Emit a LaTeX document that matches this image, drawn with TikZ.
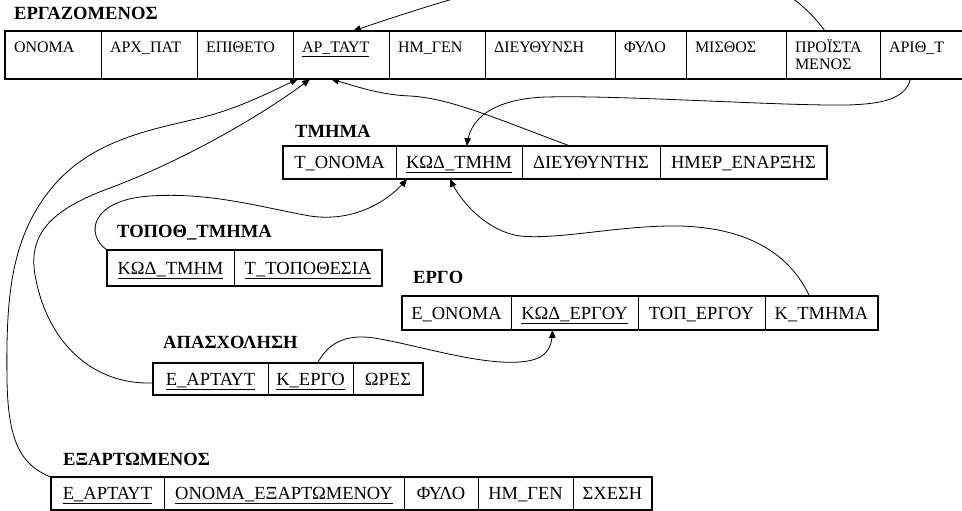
\documentclass[tikz,border=0pt]{standalone}
\usepackage{fontspec}
\setmainfont{Liberation Serif}
\usetikzlibrary{arrows}

\tikzset{
  ecell/.style={draw,line width=0.8pt,anchor=north west,outer sep=0pt,inner xsep=9pt,inner ysep=0pt,
    text height=22pt,text depth=26pt,align=left,text width=#1,font=\fontsize{16}{17}\selectfont},
  cell/.style 2 args={draw,line width=0.8pt,anchor=north west,outer sep=0pt,inner sep=0pt,
    minimum width=#1,minimum height=#2,text height=13.5pt,text depth=1pt,font=\fontsize{18.5}{20}\selectfont},
  tbl/.style={line width=2.8pt,line join=miter,line cap=butt},
  title/.style={anchor=base west,inner sep=0pt,font=\bfseries\fontsize{18.6}{20}\selectfont},
  fk/.style={->,line width=0.8pt}
}

\begin{document}
\begin{tikzpicture}[line cap=round,line join=round,>=triangle 45,x=1pt,y=-1pt]
\useasboundingbox (0,0) rectangle (962,511);
\clip (0,0) rectangle (962,511);
\node[title] (erg) at (14,20) {ΕΡΓΑΖΟΜΕΝΟΣ};
\node[title] (tmh) at (295,137) {ΤΜΗΜΑ};
\node[title] (top) at (117,237) {ΤΟΠΟΘ\_ΤΜΗΜΑ};
\node[title] (ergo) at (413,283) {ΕΡΓΟ};
\node[title] (apa) at (163,348) {ΑΠΑΣΧΟΛΗΣΗ};
\node[title] (exa) at (63,465) {ΕΞΑΡΤΩΜΕΝΟΣ};
\node[ecell=78pt] (e1) at (5,31) {ΟΝΟΜΑ};
\node[ecell=78pt] (e2) at (101,31) {ΑΡΧ\_ΠΑΤ};
\node[ecell=78pt] (e3) at (197,31) {ΕΠΙΘΕΤΟ};
\node[ecell=78pt] (e4) at (293,31) {\underline{ΑΡ\_ΤΑΥΤ}};
\node[ecell=78pt] (e5) at (389,31) {ΗΜ\_ΓΕΝ};
\node[ecell=112pt] (e6) at (485,31) {ΔΙΕΥΘΥΝΣΗ};
\node[ecell=53pt] (e7) at (615,31) {ΦΥΛΟ};
\node[ecell=82pt] (e8) at (686,31) {ΜΙΣΘΟΣ};
\node[ecell=76pt] (e9) at (786,31) {ΠΡΟΪΣΤΑ\\ΜΕΝΟΣ};
\node[ecell=77pt] (e10) at (880,31) {ΑΡΙΘ\_Τ};
\draw[tbl,line width=2.2pt] (e1.north west) rectangle (e10.south east);
\node[cell={113pt}{33pt}] (t1) at (283,146) {Τ\_ΟΝΟΜΑ};
\node[cell={126pt}{33pt}] (t2) at (396,146) {\underline{ΚΩΔ\_ΤΜΗΜ}};
\node[cell={138pt}{33pt}] (t3) at (522,146) {ΔΙΕΥΘΥΝΤΗΣ};
\node[cell={167pt}{33pt}] (t4) at (660,146) {ΗΜΕΡ\_ΕΝΑΡΞΗΣ};
\draw[tbl] (t1.north west) rectangle (t4.south east);
\node[cell={127pt}{36pt}] (p1) at (107,250) {\underline{ΚΩΔ\_ΤΜΗΜ}};
\node[cell={148pt}{36pt}] (p2) at (234,250) {\underline{Τ\_ΤΟΠΟΘΕΣΙΑ}};
\draw[tbl] (p1.north west) rectangle (p2.south east);
\node[cell={109pt}{34pt}] (r1) at (402,296) {Ε\_ΟΝΟΜΑ};
\node[cell={127pt}{34pt}] (r2) at (511,296) {\underline{ΚΩΔ\_ΕΡΓΟΥ}};
\node[cell={127pt}{34pt}] (r3) at (638,296) {ΤΟΠ\_ΕΡΓΟΥ};
\node[cell={113pt}{34pt}] (r4) at (765,296) {Κ\_ΤΜΗΜΑ};
\draw[tbl] (r1.north west) rectangle (r4.south east);
\node[cell={115pt}{32pt}] (a1) at (153,363) {\underline{Ε\_ΑΡΤΑΥΤ}};
\node[cell={85pt}{32pt}] (a2) at (268,363) {\underline{Κ\_ΕΡΓΟ}};
\node[cell={70pt}{32pt}] (a3) at (353,363) {ΩΡΕΣ};
\draw[tbl] (a1.north west) rectangle (a3.south east);
\node[cell={113pt}{33pt}] (x1) at (51,477) {\underline{Ε\_ΑΡΤΑΥΤ}};
\node[cell={240pt}{33pt}] (x2) at (164,477) {\underline{ΟΝΟΜΑ\_ΕΞΑΡΤΩΜΕΝΟΥ}};
\node[cell={74pt}{33pt}] (x3) at (404,477) {ΦΥΛΟ};
\node[cell={95pt}{33pt}] (x4) at (478,477) {ΗΜ\_ΓΕΝ};
\node[cell={79pt}{33pt}] (x5) at (573,477) {ΣΧΕΣΗ};
\draw[tbl] (x1.north west) rectangle (x5.south east);
\draw[fk] ([xshift=-8pt]e9.north) .. controls (740,-85) and (540,-33) .. ([xshift=12pt]e4.north);
\draw[fk] ([xshift=-17pt]e10.south) .. controls (905,100) and (880,104) .. (847,105) .. controls (780,106) and (620,95) .. (547,97) .. controls (505,98) and (470,112) .. ([xshift=8pt]t2.north);
\draw[fk] ([xshift=-21pt]t3.north) .. controls (500,120) and (450,98) .. (410,96) .. controls (380,95) and (355,86) .. ([xshift=-10pt]e4.south);
\draw[fk] (p1.north west) .. controls (85,235) and (90,200) .. (150,196) .. controls (210,192) and (260,207) .. (310,216) .. controls (350,222) and (385,205) .. ([xshift=-52pt]t2.south);
\draw[fk] ([xshift=-12pt]r4.north) .. controls (790,255) and (750,228) .. (680,226) .. controls (620,225) and (560,240) .. (520,236) .. controls (490,232) and (462,205) .. ([xshift=-9pt]t2.south);
\draw[fk] ([xshift=7pt]a2.north) .. controls (330,340) and (350,333) .. (380,339) .. controls (420,346) and (480,365) .. (520,362) .. controls (545,360) and (552,350) .. ([xshift=-22pt]r2.south);
\draw[fk] ([yshift=-4pt]a1.west) .. controls (90,385) and (48,340) .. (36,280) .. controls (26,235) and (50,210) .. (110,188) .. controls (190,158) and (270,110) .. ([xshift=-31pt]e4.south);
\draw[fk] (x1.north west) .. controls (20,465) and (8,440) .. (7,380) .. controls (6,300) and (10,240) .. (50,190) .. controls (90,140) and (150,130) .. (200,118) .. controls (240,108) and (270,92) .. ([xshift=-43pt]e4.south);
\end{tikzpicture}
\end{document}
